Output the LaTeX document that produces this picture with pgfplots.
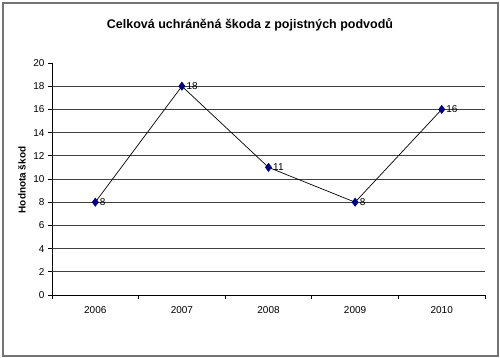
\documentclass[border=0pt]{standalone}
\usepackage{fontspec}
\setmainfont{Liberation Sans}
\usepackage{pgfplots}
\pgfplotsset{compat=1.18}
\definecolor{navy}{RGB}{0,0,128}
\begin{document}
\begin{tikzpicture}[x=1pt,y=1pt]
\useasboundingbox (-52,-63) rectangle (448,295);
\draw[line width=1.6pt, black!55] (-49,-61) rectangle (446,292);
\begin{axis}[
  at={(0,0)}, anchor=south west,
  scale only axis, width=433pt, height=232pt,
  xmin=-0.5, xmax=4.5, ymin=0, ymax=20,
  axis x line*=bottom, axis y line*=left,
  axis line style={black, line width=0.8pt, -},
  xtick={0,1,2,3,4},
  xticklabels={2006,2007,2008,2009,2010},
  minor xtick={-0.5,0.5,1.5,2.5,3.5,4.5},
  major x tick style={draw=none},
  minor x tick style={black, line width=0.8pt},
  ytick={0,2,...,20},
  y tick style={black, line width=0.8pt},
  tick align=outside,
  major tick length=4pt, minor tick length=4pt,
  extra y ticks={2,4,...,18},
  extra y tick labels={},
  extra y tick style={grid=major, major tick length=0pt},
  grid style={black!75, line width=0.8pt},
  tick label style={font=\fontsize{10}{12}\selectfont},
  /pgf/number format/assume math mode=true,
  xticklabel style={yshift=-4pt},
  clip=false,
  nodes near coords,
  every node near coord/.append style={anchor=west, font=\fontsize{10}{12}\selectfont, xshift=1pt, black},
]
\addplot[black, line width=0.7pt, mark=diamond*, mark size=4pt, mark options={fill=navy, draw=navy}]
  coordinates {(0,8) (1,18) (2,11) (3,8) (4,16)};
\end{axis}
\node[font=\bfseries\fontsize{12.5}{14}\selectfont] at (198,270) {Celková uchráněná škoda z pojistných podvodů};
\node[font=\bfseries\fontsize{10}{12}\selectfont, rotate=90] at (-30,115) {Hodnota škod};
\end{tikzpicture}
\end{document}
